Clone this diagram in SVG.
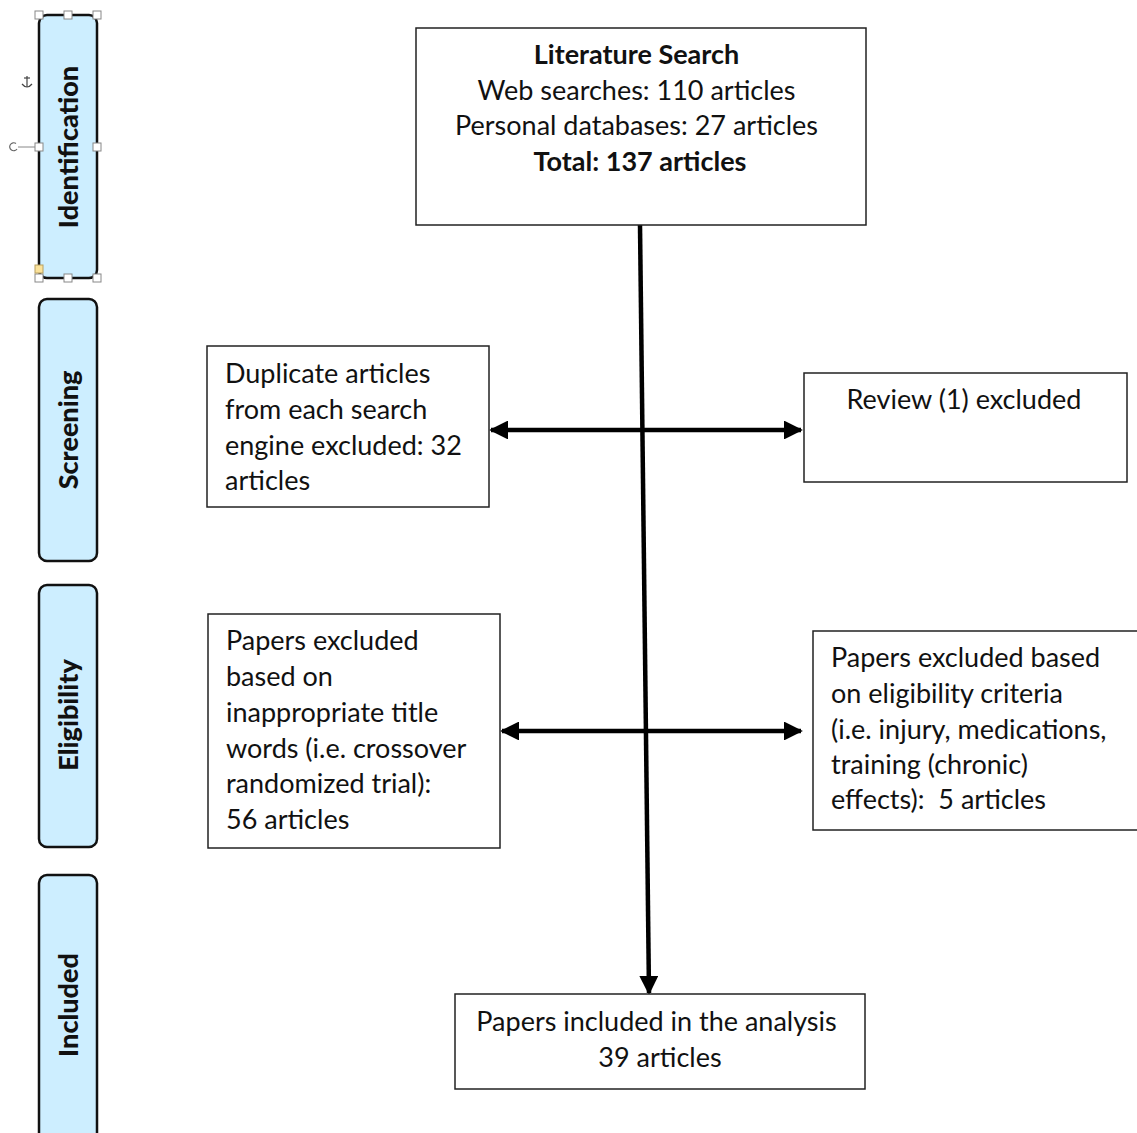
<svg xmlns="http://www.w3.org/2000/svg" width="1137" height="1133" viewBox="0 0 1137 1133">
<defs>
<style>
.box{fill:#fff;stroke:#222;stroke-width:1.5}
.lane{fill:#cdeeff;stroke:#111;stroke-width:2.5}
.t{font-family:Lato,"Open Sans",sans-serif;font-size:27px;fill:#111}
.b{font-weight:bold}
.lt{font-family:Lato,"Open Sans",sans-serif;font-size:27px;font-weight:900;fill:#111}
.c{stroke:#000;stroke-width:4.5;fill:none}
.h{fill:#fff;stroke:#888;stroke-width:1}
</style>
<marker id="ah" viewBox="0 0 10 10" refX="9" refY="5" markerWidth="4.2" markerHeight="4.2" orient="auto-start-reverse" markerUnits="strokeWidth">
<path d="M0,0 L10,5 L0,10 z" fill="#000"/>
</marker>
</defs>
<rect width="1137" height="1133" fill="#fff"/>

<g id="lane-identification">
<rect class="lane" x="39" y="15" width="58" height="263" rx="8"/>
<text class="lt" transform="translate(78,147) rotate(-90)" text-anchor="middle">Identification</text>
</g>
<g id="selection-handles">
<rect class="h" x="35" y="11" width="8" height="8"/>
<rect class="h" x="64" y="11" width="8" height="8"/>
<rect class="h" x="93" y="11" width="8" height="8"/>
<rect class="h" x="35" y="143" width="8" height="8"/>
<rect class="h" x="93" y="143" width="8" height="8"/>
<rect class="h" x="35" y="274" width="8" height="8"/>
<rect class="h" x="64" y="274" width="8" height="8"/>
<rect class="h" x="93" y="274" width="8" height="8"/>
<rect x="35" y="265" width="8" height="8" fill="#fbe29a" stroke="#b8a060" stroke-width="1"/>
<line x1="18" y1="147" x2="35" y2="147" stroke="#888" stroke-width="1"/>
<path d="M16,143.5 A4,4 0 1 0 17,149" fill="none" stroke="#666" stroke-width="1.2"/>
<g stroke="#444" stroke-width="1.2" fill="none">
<line x1="27" y1="76" x2="27" y2="87"/>
<line x1="24" y1="78" x2="30" y2="78"/>
<path d="M22,84 Q27,90 32,84"/>
</g>
</g>

<g id="lane-screening">
<rect class="lane" x="39" y="299" width="58" height="262" rx="8"/>
<text class="lt" transform="translate(78,430) rotate(-90)" text-anchor="middle">Screening</text>
</g>
<g id="lane-eligibility">
<rect class="lane" x="39" y="585" width="58" height="262" rx="8"/>
<text class="lt" transform="translate(78,715) rotate(-90)" text-anchor="middle">Eligibility</text>
</g>
<g id="lane-included">
<rect class="lane" x="39" y="875" width="58" height="270" rx="8"/>
<text class="lt" transform="translate(78,1005) rotate(-90)" text-anchor="middle">Included</text>
</g>

<g id="connectors">
<line class="c" x1="640" y1="225" x2="649" y2="993" marker-end="url(#ah)"/>
<line class="c" x1="491" y1="430" x2="801" y2="430" marker-start="url(#ah)" marker-end="url(#ah)"/>
<line class="c" x1="502" y1="731" x2="801" y2="731" marker-start="url(#ah)" marker-end="url(#ah)"/>
</g>

<g id="literature-search">
<rect class="box" x="416" y="28" width="450" height="197"/>
<text class="t" text-anchor="middle">
<tspan class="b" x="640" y="64">Literature Search</tspan>
<tspan x="640" y="100">Web searches: 110 articles</tspan>
<tspan x="640" y="135">Personal databases: 27 articles</tspan>
<tspan class="b" x="640" y="171">Total: 137 articles</tspan>
</text>
</g>

<g id="duplicates">
<rect class="box" x="207" y="346" width="282" height="161"/>
<text class="t">
<tspan x="225" y="383">Duplicate articles</tspan>
<tspan x="225" y="419">from each search</tspan>
<tspan x="225" y="455">engine excluded: 32</tspan>
<tspan x="225" y="490">articles</tspan>
</text>
</g>

<g id="review">
<rect class="box" x="804" y="373" width="323" height="109"/>
<text class="t" text-anchor="middle"><tspan x="964" y="409">Review (1) excluded</tspan></text>
</g>

<g id="title-words">
<rect class="box" x="208" y="614" width="292" height="234"/>
<text class="t">
<tspan x="226" y="650">Papers excluded</tspan>
<tspan x="226" y="686">based on</tspan>
<tspan x="226" y="722">inappropriate title</tspan>
<tspan x="226" y="758">words (i.e. crossover</tspan>
<tspan x="226" y="793">randomized trial):</tspan>
<tspan x="226" y="829">56 articles</tspan>
</text>
</g>

<g id="eligibility-criteria">
<rect class="box" x="813" y="631" width="330" height="199"/>
<text class="t">
<tspan x="831" y="667">Papers excluded based</tspan>
<tspan x="831" y="703">on eligibility criteria</tspan>
<tspan x="831" y="739">(i.e. injury, medications,</tspan>
<tspan x="831" y="774">training (chronic)</tspan>
<tspan x="831" y="809" xml:space="preserve">effects):  5 articles</tspan>
</text>
</g>

<g id="included">
<rect class="box" x="455" y="994" width="410" height="95"/>
<text class="t" text-anchor="middle">
<tspan x="660" y="1031">Papers included in the analysis</tspan>
<tspan x="660" y="1067">39 articles</tspan>
</text>
</g>
</svg>
